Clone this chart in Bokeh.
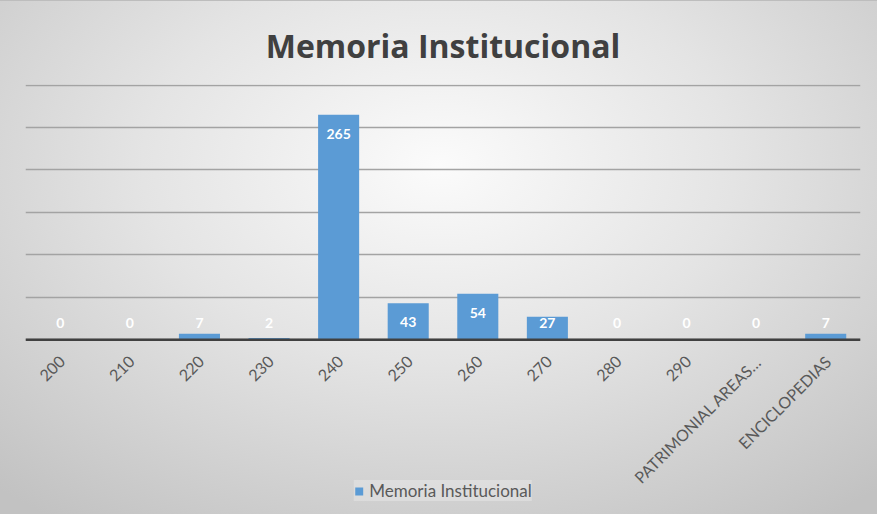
import numpy as np
from bokeh.plotting import figure
from bokeh.models import (FactorRange, Range1d, Grid, FixedTicker, ColumnDataSource,
                          Legend, LegendItem, Span)
from bokeh.core.properties import value
from bokeh.embed import file_html
from bokeh.resources import INLINE

title_text = "Memoria Institucional"
series_name = "Memoria Institucional"
categories = ["200", "210", "220", "230", "240", "250", "260", "270", "280", "290",
              "PATRIMONIAL AREAS\u2026", "ENCICLOPEDIAS"]
counts = [0, 0, 7, 2, 265, 43, 54, 27, 0, 0, 0, 7]
grid_values = [0, 50, 100, 150, 200, 250, 300]

FONT = "Lato"
PX_PER_UNIT = 255 / 300.0          # plot-area scale of the value axis
BELOW_PX = 175                     # room under the baseline for category labels + legend

src = ColumnDataSource(dict(
    cat=categories,
    val=counts,
    lab=[str(v) for v in counts],
    ly=list(np.maximum(np.array(counts, dtype=float), 42.0)),
    base=[0] * len(categories),
))

p = figure(frame_width=835, frame_height=255 + BELOW_PX, output_backend="svg", toolbar_location=None,
           x_range=FactorRange(*categories, range_padding=0),
           y_range=Range1d(-BELOW_PX / PX_PER_UNIT, 300.6),
           x_axis_location=None, y_axis_location=None,
           min_border_left=25, min_border_right=17, min_border_top=83, min_border_bottom=0)

p.styles = {"background": "radial-gradient(ellipse 75% 85% at 50% 32%, #fbfbfb 0%, #e4e4e4 45%, #c2c2c2 100%)",
            "border-top": "1px solid #bdbdbd"}
p.background_fill_alpha = 0
p.border_fill_alpha = 0
p.outline_line_color = None

p.title.text = title_text
p.title.align = "center"
p.title.text_font = "Open Sans"
p.title.text_font_size = "32px"
p.title.text_color = "#404040"
p.title.text_font_style = "bold"
p.title.standoff = 36

p.xgrid.visible = False
p.ygrid.visible = False
p.add_layout(Grid(dimension=1, ticker=FixedTicker(ticks=grid_values),
                  grid_line_color="#a3a3a3", grid_line_width=1.5))
p.add_layout(Span(location=0, dimension="width", line_color="#404040", line_width=2.5))

bars = p.vbar(x="cat", top="val", width=0.59, source=src, color="#5b9bd5", line_color=None)

p.text(x="cat", y="ly", text="lab", source=src, y_offset=19,
       text_align="center", text_baseline="middle",
       text_font=value(FONT), text_font_size="14px", text_font_style="bold",
       text_color="white")

# category labels under the baseline, rotated 45 degrees like the reference
p.text(x="cat", y="base", text="cat", source=src, angle=np.pi / 4,
       x_offset=2, y_offset=19, text_align="right", text_baseline="middle",
       text_font=value(FONT), text_font_size="16px", text_color="#595959")

legend = Legend(items=[LegendItem(label=series_name, renderers=[bars])],
                location="bottom_center", orientation="horizontal",
                label_text_font=FONT, label_text_font_size="17px", label_text_color="#595959",
                glyph_width=10, glyph_height=10, padding=3, spacing=4,
                label_standoff=6, label_height=16,
                background_fill_color="#ffffff", background_fill_alpha=0.25,
                border_line_color=None, margin=13)
p.add_layout(legend, "center")

open("out.html", "w").write(file_html(p, INLINE))
